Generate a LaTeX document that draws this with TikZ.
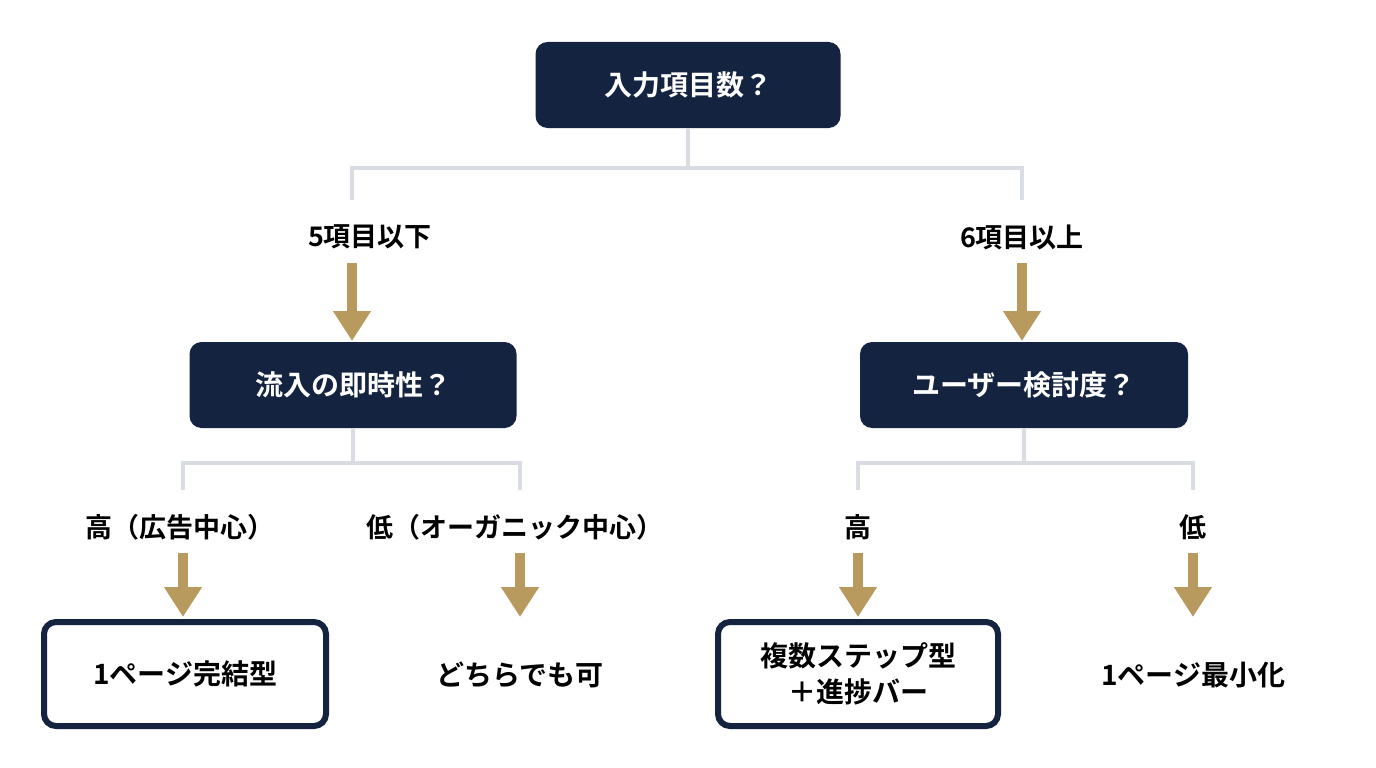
\documentclass[tikz,border=0pt]{standalone}
\usepackage{fontspec}
\setmainfont{Noto Sans CJK JP}[BoldFont={* Bold}]
\usetikzlibrary{arrows.meta}
\definecolor{navy}{HTML}{14233F}
\definecolor{gold}{HTML}{B8995E}
\definecolor{lgray}{HTML}{D9DCE3}
\begin{document}
\begin{tikzpicture}[x=1pt,y=-1pt,
 q/.style={fill=navy,rounded corners=12pt,text=white,font=\fontsize{28}{34}\selectfont\bfseries,minimum height=86pt,inner sep=0pt},
 r/.style={draw=navy,line width=6pt,fill=white,rounded corners=12pt,font=\fontsize{28}{36}\selectfont\bfseries,minimum height=104pt,inner sep=0pt,align=center},
 t/.style={font=\fontsize{28}{34}\selectfont\bfseries,inner sep=0pt},
 lab/.style={font=\fontsize{27}{32}\selectfont\bfseries,inner sep=0pt},
 tree/.style={draw=lgray,line width=4pt},
 ar/.style={draw=gold,line width=10pt,-{Triangle[width=36pt,length=30pt]}}]
\useasboundingbox[fill=white] (0,0) rectangle (1376,768);
\node[q,minimum width=305pt] (top) at (688,85) {入力項目数？};
\node[q,minimum width=327pt] (l) at (353,385) {流入の即時性？};
\node[q,minimum width=328pt] (rq) at (1024,385) {ユーザー検討度？};
\node[lab] (a1) at (370,237) {5項目以下};
\node[lab] (a2) at (1022,237) {6項目以上};
\node[lab] (b1) at (180,527) {高（広告中心）};
\node[lab] (b2) at (515,527) {低（オーガニック中心）};
\node[lab] (b3) at (858,527) {高};
\node[lab] (b4) at (1193,527) {低};
\node[r,minimum width=282pt] (c1) at (185,674) {1ページ完結型};
\node[t] (c2) at (520,675) {どちらでも可};
\node[r,minimum width=280pt] (c3) at (858,674) {複数ステップ型\\＋進捗バー};
\node[t] (c4) at (1193,675) {1ページ最小化};
\coordinate (j1) at (688,168);
\coordinate (j2) at (353,463);
\coordinate (j3) at (1024,463);
\draw[tree] (top.south) -- (j1);
\draw[tree] (352,200) -- (352,168) -- (1022,168) -- (1022,200);
\draw[tree] (l.south) -- (j2);
\draw[tree] (183,490) -- (183,463) -- (520,463) -- (520,490);
\draw[tree] (rq.south) -- (j3);
\draw[tree] (858,490) -- (858,463) -- (1193,463) -- (1193,490);
\draw[ar] (352,263) -- (352,341);
\draw[ar] (1022,263) -- (1022,341);
\draw[ar] (183,553) -- (183,617);
\draw[ar] (520,553) -- (520,617);
\draw[ar] (858,553) -- (858,617);
\draw[ar] (1193,553) -- (1193,617);
\end{tikzpicture}
\end{document}
